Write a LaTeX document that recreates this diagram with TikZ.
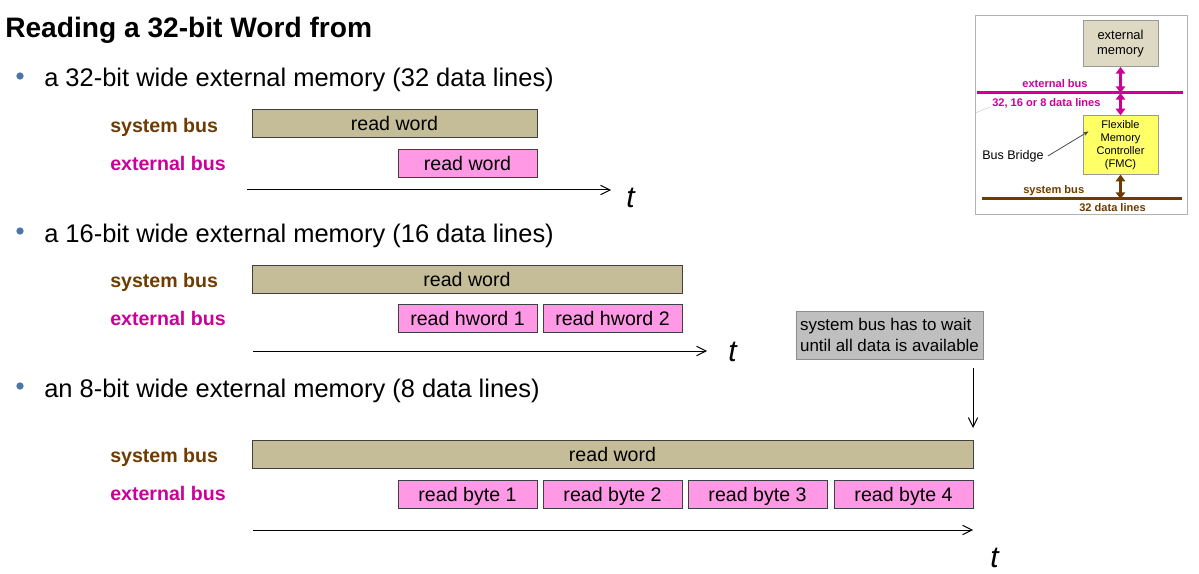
\documentclass[tikz,border=0pt]{standalone}
\usepackage{fontspec}
\setmainfont{Liberation Sans}
\usetikzlibrary{arrows.meta}
\definecolor{sysfill}{HTML}{C4BD97}
\definecolor{extfill}{HTML}{FF99E6}
\definecolor{sysbrown}{HTML}{6E3B00}
\definecolor{extmagenta}{HTML}{CC0099}
\definecolor{bulletblue}{HTML}{4A76A8}
\definecolor{memfill}{HTML}{DDD9C3}
\definecolor{fmcfill}{HTML}{FFFF66}
\definecolor{notefill}{HTML}{BFBFBF}
\tikzset{
  busbox/.style={draw=black!75, line width=0.75pt, inner sep=0pt, minimum height=21pt,
    text height=11pt, text depth=0.5pt, font=\fontsize{14.7}{17}\selectfont},
  sysbox/.style={busbox, fill=sysfill},
  extbox/.style={busbox, fill=extfill, minimum width=104.25pt},
  buslabel/.style={anchor=base west, inner sep=0pt, font=\bfseries\fontsize{14.7}{17}\selectfont},
  timeline/.style={-{Straight Barb[length=7pt,width=7pt]}, line width=0.75pt},
  tlabel/.style={anchor=base west, inner sep=0pt, font=\itshape\fontsize{22.5}{26}\selectfont},
  bulletdot/.style={circle, fill=bulletblue, inner sep=0pt, minimum size=5.5pt},
  bullettext/.style={anchor=base west, inner sep=0pt, font=\fontsize{19.1}{23}\selectfont},
  smallbold/.style={inner sep=0pt, font=\bfseries\fontsize{8.3}{10}\selectfont},
  insetbox/.style={draw=black!40, line width=0.75pt, minimum width=56.25pt, align=center},
  busarrow/.style={{Triangle[length=5pt,width=7pt]}-{Triangle[length=5pt,width=7pt]}, line width=2pt},
}
\begin{document}
\begin{tikzpicture}[x=0.75pt,y=-0.75pt]
  \useasboundingbox (0,0) rectangle (1199,574);
  \node[anchor=base west, inner sep=0pt, font=\bfseries\fontsize{21.1}{25}\selectfont] (title) at (5,38) {Reading a 32-bit Word from};

  % 32-bit wide memory
  \node[bulletdot] (dot1) at (20,76) {};
  \node[bullettext] (item1) at (44,87) {a 32-bit wide external memory (32 data lines)};
  \node[buslabel, text=sysbrown] (sys1label) at (110,133) {system bus};
  \node[buslabel, text=extmagenta] (ext1label) at (110,170.5) {external bus};
  \node[sysbox, minimum width=213.75pt] (sys1) at (394.5,124) {read word};
  \node[extbox] (ext1) at (467.5,163.5) {read word};
  \coordinate (t1from) at (247,190);
  \coordinate (t1to) at (611,190);
  \draw[timeline] (t1from) -- (t1to);
  \node[tlabel] (t1) at (626,207) {t};

  % 16-bit wide memory
  \node[bulletdot] (dot2) at (20,231) {};
  \node[bullettext] (item2) at (44,242) {a 16-bit wide external memory (16 data lines)};
  \node[buslabel, text=sysbrown] (sys2label) at (110,287) {system bus};
  \node[buslabel, text=extmagenta] (ext2label) at (110,325.5) {external bus};
  \node[sysbox, minimum width=322.5pt] (sys2) at (467,279) {read word};
  \node[extbox] (hword1) at (467.5,318.5) {read hword 1};
  \node[extbox] (hword2) at (612.5,318.5) {read hword 2};
  \coordinate (t2from) at (253,351);
  \coordinate (t2to) at (707,351);
  \draw[timeline] (t2from) -- (t2to);
  \node[tlabel] (t2) at (728,361) {t};

  % 8-bit wide memory
  \node[bulletdot] (dot3) at (20,386) {};
  \node[bullettext] (item3) at (44,397) {an 8-bit wide external memory (8 data lines)};
  \node[buslabel, text=sysbrown] (sys3label) at (110,462) {system bus};
  \node[buslabel, text=extmagenta] (ext3label) at (110,500.5) {external bus};
  \node[sysbox, minimum width=540.75pt] (sys3) at (612.5,454.5) {read word};
  \foreach \i/\x in {1/467.5,2/612.5,3/757.5,4/903.5}
    \node[extbox] (byte\i) at (\x,494.5) {read byte \i};
  \coordinate (t3from) at (253,530);
  \coordinate (t3to) at (973,530);
  \draw[timeline] (t3from) -- (t3to);
  \node[tlabel] (t3) at (990,567) {t};

  % note
  \node[draw=black!45, fill=notefill, line width=0.75pt, minimum width=140.25pt, minimum height=36pt,
    inner sep=2pt, align=left, font=\fontsize{12.7}{15.75}\selectfont] (wait) at (889.5,335)
    {system bus has to wait\\until all data is available};
  \coordinate (waitfrom) at (973,368);
  \coordinate (waitto) at (973,428);
  \draw[timeline] (waitfrom) -- (waitto);

  % inset
  \draw[black!30, line width=0.75pt] (975,16) rectangle (1187,214);
  \draw[black!20] (975,113) -- (990,107);
  \node[insetbox, fill=memfill, minimum height=34.5pt, font=\fontsize{9.7}{11.25}\selectfont] (extmem) at (1120.5,43.5) {external\\memory};
  \node[insetbox, fill=fmcfill, minimum height=42pt, font=\fontsize{8.3}{9.75}\selectfont] (fmc) at (1120.5,145) {Flexible\\Memory\\Controller\\(FMC)};
  \coordinate (extbusL) at (977,93);
  \coordinate (extbusR) at (1183,93);
  \coordinate (sysbusL) at (982,199);
  \coordinate (sysbusR) at (1182,199);
  \draw[extmagenta, line width=2.25pt] (extbusL) -- (extbusR);
  \draw[sysbrown, line width=2.25pt] (sysbusL) -- (sysbusR);
  \draw[busarrow, extmagenta] (extmem.south) -- (extmem.south |- extbusL);
  \draw[busarrow, extmagenta] (fmc.north |- extbusL) -- (fmc.north);
  \draw[busarrow, sysbrown] (fmc.south) -- (fmc.south |- sysbusL);
  \node[smallbold, text=extmagenta, anchor=base] (extbuslabel) at (1055,87.5) {external bus};
  \node[smallbold, text=extmagenta, anchor=base west] (extlines) at (992,106.5) {32, 16 or 8 data lines};
  \node[smallbold, text=sysbrown, anchor=base west] (sysbuslabel) at (1023,194) {system bus};
  \node[smallbold, text=sysbrown, anchor=base west] (syslines) at (1079,211) {32 data lines};
  \node[anchor=west, inner sep=0pt, font=\fontsize{9.4}{11}\selectfont] (bridge) at (982,156) {Bus Bridge};
  \draw[-{Stealth[length=4pt,width=3pt]}, black!70, line width=0.6pt] (bridge.east) ++(4,0) -- ([xshift=4.5pt,yshift=-12pt]fmc.north west);
\end{tikzpicture}
\end{document}
